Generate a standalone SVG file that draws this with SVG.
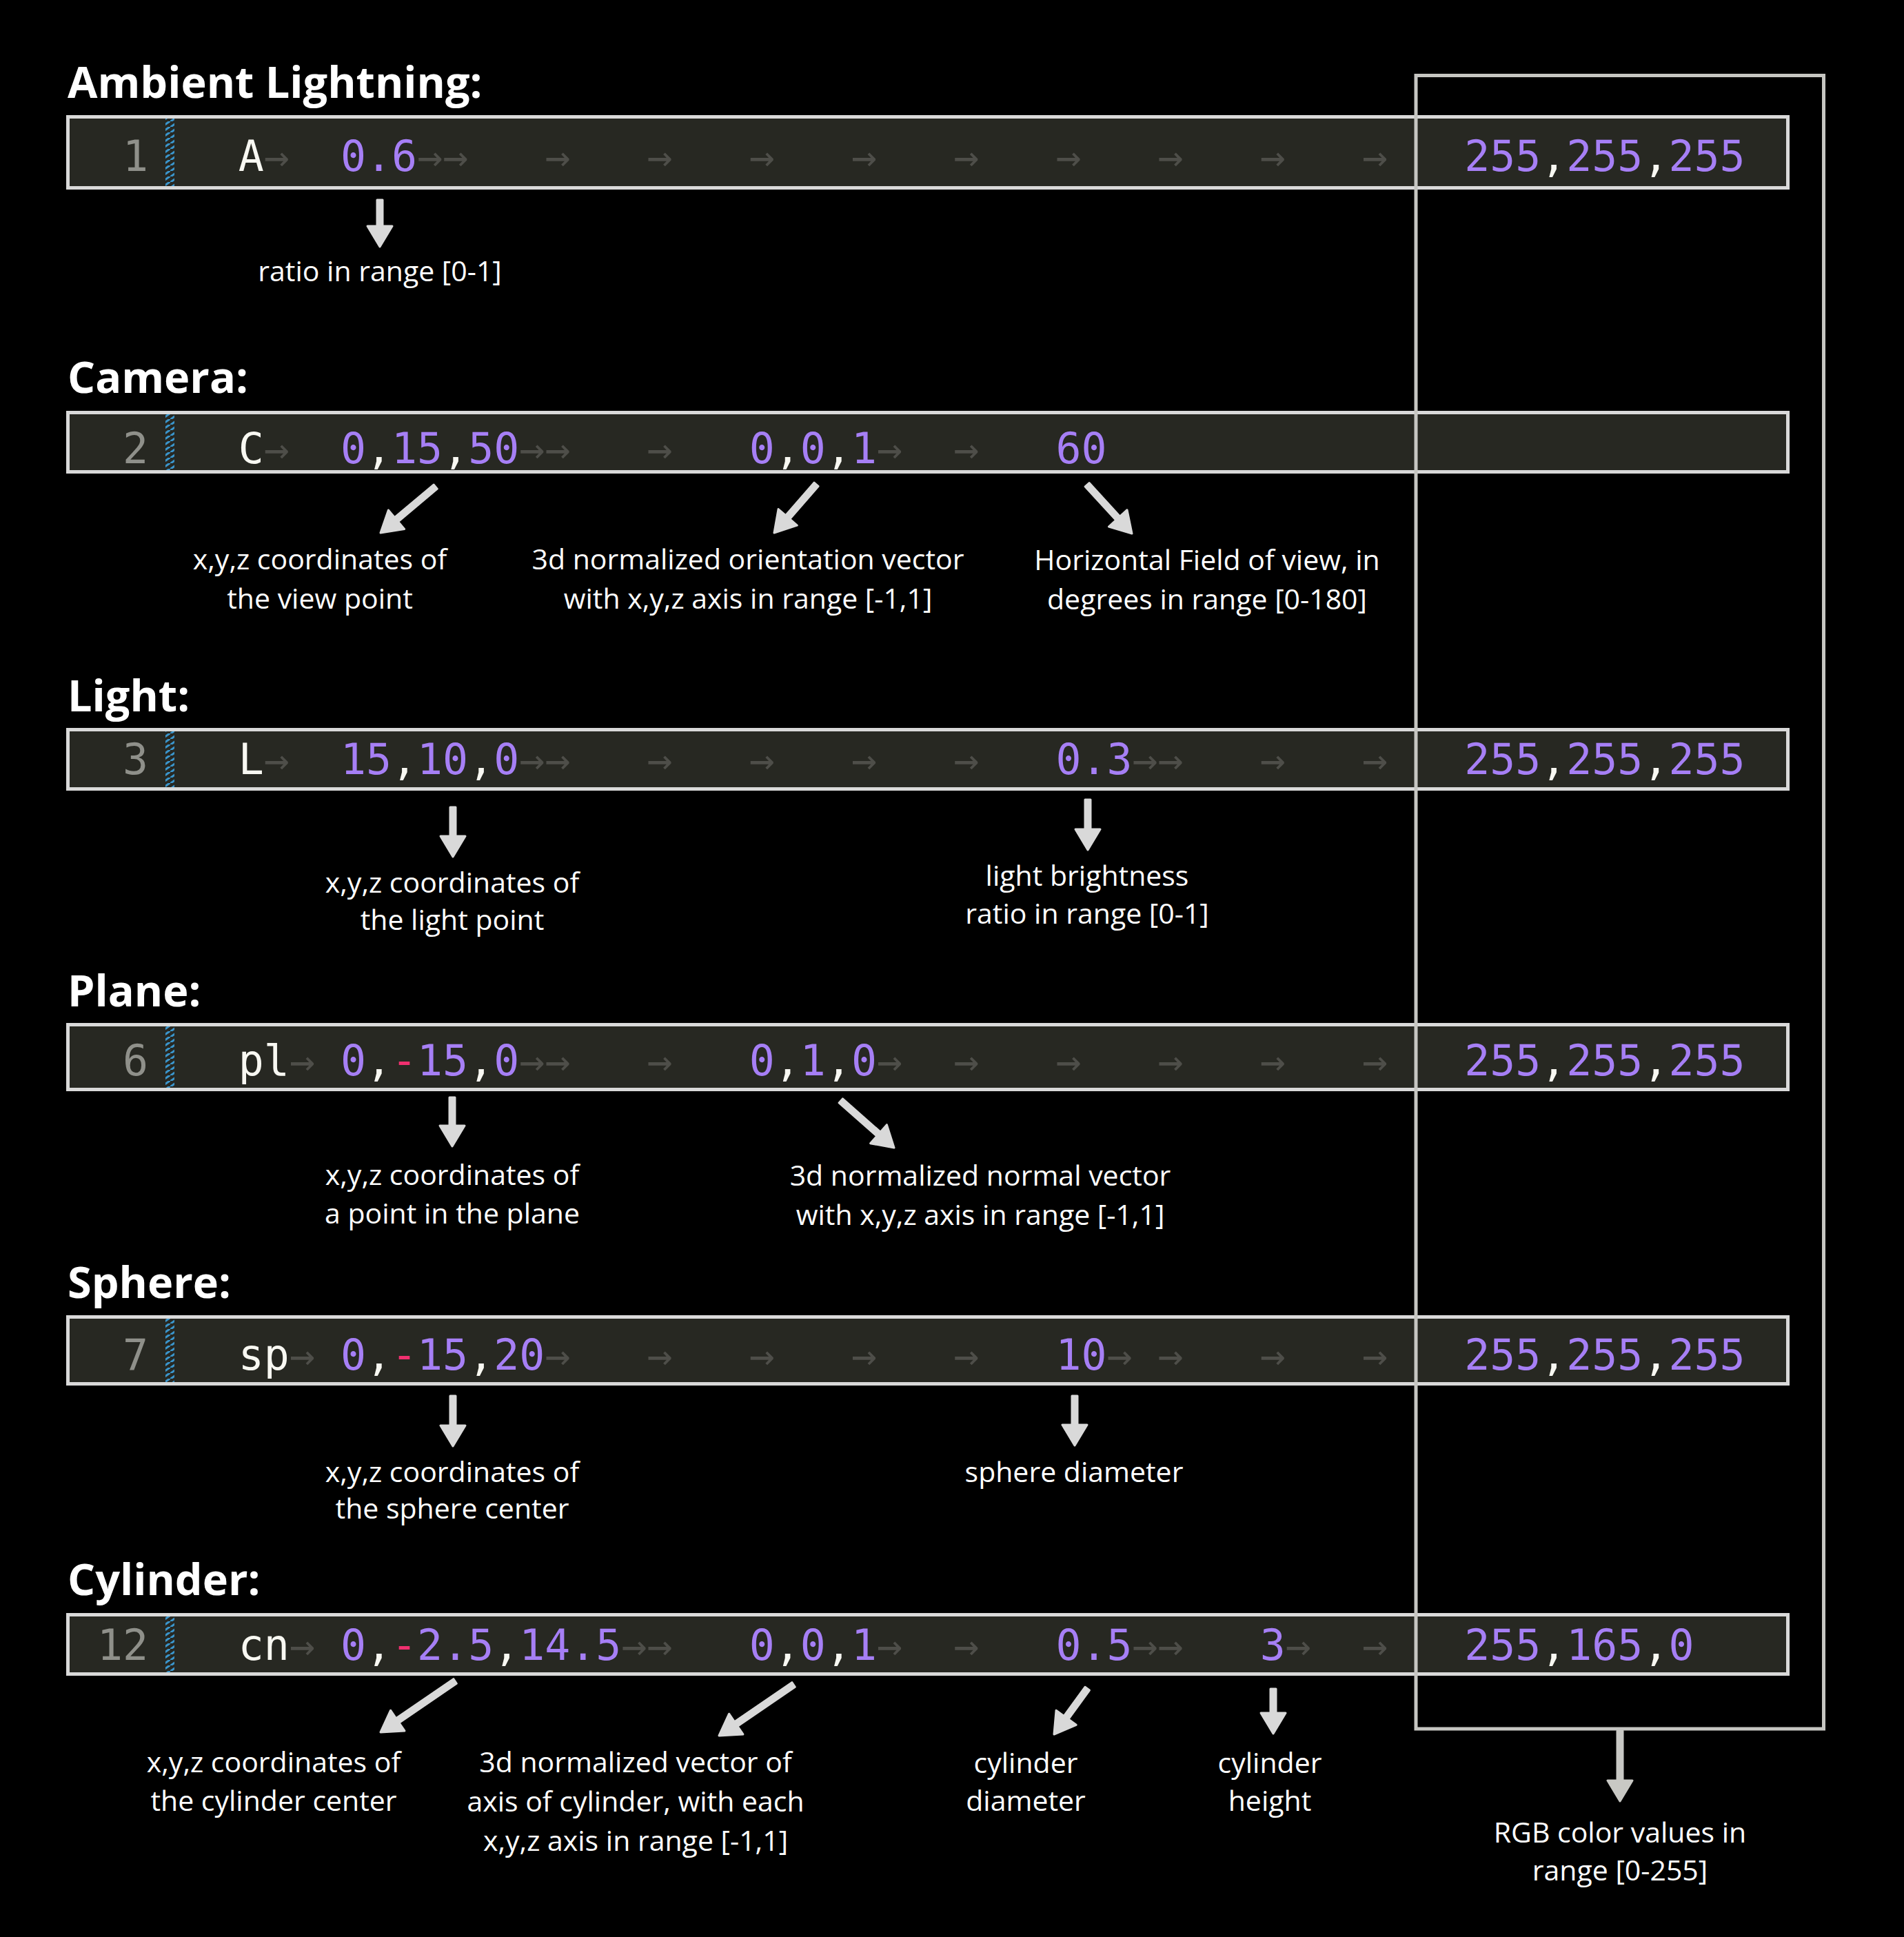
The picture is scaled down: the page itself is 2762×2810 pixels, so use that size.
<svg xmlns="http://www.w3.org/2000/svg" width="2762" height="2810" viewBox="0 0 2762 2810">
<style>
.bg{fill:#000}
.row{fill:#272822;stroke:#d9d9d9;stroke-width:5}
.frame{fill:none;stroke:#c6c6c2;stroke-width:5}
.code{font-family:"DejaVu Sans Mono","Liberation Mono",monospace;font-size:61.5px}
.p{fill:#a67ff5}
.w{fill:#f8f8f2}
.r{fill:#f0306f}
.t{fill:#4e4e49}
.ln{fill:#8f908a}
.h{font-family:"Open Sans","Noto Sans","Liberation Sans",sans-serif;font-weight:700;font-size:63px;fill:#fff}
.lb{font-family:"Open Sans","Noto Sans","Liberation Sans",sans-serif;font-size:41px;fill:#fff;text-anchor:middle}
.ar{fill:#d9d9d9;stroke:#d9d9d9;stroke-width:3;stroke-linejoin:round}
.ar2{fill:#c8c8c4;stroke:#c8c8c4;stroke-width:3;stroke-linejoin:round}
</style>
<defs>
<pattern id="hatch" width="13" height="8" patternUnits="userSpaceOnUse">
<rect width="13" height="8" fill="#272822"/>
<path d="M-2,10 L15,-2" stroke="#3a95cc" stroke-width="3"/>
</pattern>
</defs>
<rect class="bg" x="0" y="0" width="2762" height="2810"/>

<g id="ambient">
<text class="h" x="98" y="142">Ambient Lightning:</text>
<rect class="row" x="98.5" y="169.5" width="2495" height="103"/>
<rect x="240" y="172" width="13" height="98" fill="url(#hatch)"/>
<text class="code ln" x="215" y="248" text-anchor="end">1</text>
<text class="code" y="248"><tspan x="345.8" class="w">A</tspan><tspan x="382.85" class="t">→</tspan><tspan x="494" class="p">0.6</tspan><tspan x="605.15" class="t">→</tspan><tspan x="642.2" class="t">→</tspan><tspan x="790.4" class="t">→</tspan><tspan x="938.6" class="t">→</tspan><tspan x="1086.8" class="t">→</tspan><tspan x="1235" class="t">→</tspan><tspan x="1383.2" class="t">→</tspan><tspan x="1531.4" class="t">→</tspan><tspan x="1679.6" class="t">→</tspan><tspan x="1827.8" class="t">→</tspan><tspan x="1976" class="t">→</tspan><tspan x="2124.2" class="p">255<tspan class="w">,</tspan>255<tspan class="w">,</tspan>255</tspan></text>
<text class="lb" x="551" y="408">ratio in range [0-1]</text>
</g>

<g id="camera">
<text class="h" x="98" y="570">Camera:</text>
<rect class="row" x="98.5" y="598.5" width="2495" height="86"/>
<rect x="240" y="601" width="13" height="81" fill="url(#hatch)"/>
<text class="code ln" x="215" y="672" text-anchor="end">2</text>
<text class="code" y="672"><tspan x="345.8" class="w">C</tspan><tspan x="382.85" class="t">→</tspan><tspan x="494" class="p">0<tspan class="w">,</tspan>15<tspan class="w">,</tspan>50</tspan><tspan x="753.35" class="t">→</tspan><tspan x="790.4" class="t">→</tspan><tspan x="938.6" class="t">→</tspan><tspan x="1086.8" class="p">0<tspan class="w">,</tspan>0<tspan class="w">,</tspan>1</tspan><tspan x="1272.05" class="t">→</tspan><tspan x="1383.2" class="t">→</tspan><tspan x="1531.4" class="p">60</tspan></text>
<text class="lb" x="464" y="826">x,y,z coordinates of</text>
<text class="lb" x="464" y="883">the view point</text>
<text class="lb" x="1085" y="826">3d normalized orientation vector</text>
<text class="lb" x="1085" y="883">with x,y,z axis in range [-1,1]</text>
<text class="lb" x="1751" y="827">Horizontal Field of view, in</text>
<text class="lb" x="1751" y="884">degrees in range [0-180]</text>
</g>

<g id="light">
<text class="h" x="98" y="1032">Light:</text>
<rect class="row" x="98.5" y="1058.5" width="2495" height="86"/>
<rect x="240" y="1061" width="13" height="81" fill="url(#hatch)"/>
<text class="code ln" x="215" y="1123" text-anchor="end">3</text>
<text class="code" y="1123"><tspan x="345.8" class="w">L</tspan><tspan x="382.85" class="t">→</tspan><tspan x="494" class="p">15<tspan class="w">,</tspan>10<tspan class="w">,</tspan>0</tspan><tspan x="753.35" class="t">→</tspan><tspan x="790.4" class="t">→</tspan><tspan x="938.6" class="t">→</tspan><tspan x="1086.8" class="t">→</tspan><tspan x="1235" class="t">→</tspan><tspan x="1383.2" class="t">→</tspan><tspan x="1531.4" class="p">0.3</tspan><tspan x="1642.55" class="t">→</tspan><tspan x="1679.6" class="t">→</tspan><tspan x="1827.8" class="t">→</tspan><tspan x="1976" class="t">→</tspan><tspan x="2124.2" class="p">255<tspan class="w">,</tspan>255<tspan class="w">,</tspan>255</tspan></text>
<text class="lb" x="656" y="1295">x,y,z coordinates of</text>
<text class="lb" x="656" y="1349">the light point</text>
<text class="lb" x="1577" y="1285">light brightness</text>
<text class="lb" x="1577" y="1340">ratio in range [0-1]</text>
</g>

<g id="plane">
<text class="h" x="98" y="1460">Plane:</text>
<rect class="row" x="98.5" y="1486.5" width="2495" height="94"/>
<rect x="240" y="1489" width="13" height="89" fill="url(#hatch)"/>
<text class="code ln" x="215" y="1560" text-anchor="end">6</text>
<text class="code" y="1560"><tspan x="345.8" class="w">pl</tspan><tspan x="419.9" class="t">→</tspan><tspan x="494" class="p">0<tspan class="w">,</tspan><tspan class="r">-</tspan>15<tspan class="w">,</tspan>0</tspan><tspan x="753.35" class="t">→</tspan><tspan x="790.4" class="t">→</tspan><tspan x="938.6" class="t">→</tspan><tspan x="1086.8" class="p">0<tspan class="w">,</tspan>1<tspan class="w">,</tspan>0</tspan><tspan x="1272.05" class="t">→</tspan><tspan x="1383.2" class="t">→</tspan><tspan x="1531.4" class="t">→</tspan><tspan x="1679.6" class="t">→</tspan><tspan x="1827.8" class="t">→</tspan><tspan x="1976" class="t">→</tspan><tspan x="2124.2" class="p">255<tspan class="w">,</tspan>255<tspan class="w">,</tspan>255</tspan></text>
<text class="lb" x="656" y="1719">x,y,z coordinates of</text>
<text class="lb" x="656" y="1775">a point in the plane</text>
<text class="lb" x="1422" y="1720">3d normalized normal vector</text>
<text class="lb" x="1422" y="1777">with x,y,z axis in range [-1,1]</text>
</g>

<g id="sphere">
<text class="h" x="98" y="1883">Sphere:</text>
<rect class="row" x="98.5" y="1910.5" width="2495" height="97"/>
<rect x="240" y="1913" width="13" height="92" fill="url(#hatch)"/>
<text class="code ln" x="215" y="1987" text-anchor="end">7</text>
<text class="code" y="1987"><tspan x="345.8" class="w">sp</tspan><tspan x="419.9" class="t">→</tspan><tspan x="494" class="p">0<tspan class="w">,</tspan><tspan class="r">-</tspan>15<tspan class="w">,</tspan>20</tspan><tspan x="790.4" class="t">→</tspan><tspan x="938.6" class="t">→</tspan><tspan x="1086.8" class="t">→</tspan><tspan x="1235" class="t">→</tspan><tspan x="1383.2" class="t">→</tspan><tspan x="1531.4" class="p">10</tspan><tspan x="1605.5" class="t">→</tspan><tspan x="1679.6" class="t">→</tspan><tspan x="1827.8" class="t">→</tspan><tspan x="1976" class="t">→</tspan><tspan x="2124.2" class="p">255<tspan class="w">,</tspan>255<tspan class="w">,</tspan>255</tspan></text>
<text class="lb" x="656" y="2150">x,y,z coordinates of</text>
<text class="lb" x="656" y="2203">the sphere center</text>
<text class="lb" x="1558" y="2150">sphere diameter</text>
</g>

<g id="cylinder">
<text class="h" x="98" y="2314">Cylinder:</text>
<rect class="row" x="98.5" y="2342.5" width="2495" height="86"/>
<rect x="240" y="2345" width="13" height="81" fill="url(#hatch)"/>
<text class="code ln" x="215" y="2408" text-anchor="end">12</text>
<text class="code" y="2408"><tspan x="345.8" class="w">cn</tspan><tspan x="419.9" class="t">→</tspan><tspan x="494" class="p">0<tspan class="w">,</tspan><tspan class="r">-</tspan>2.5<tspan class="w">,</tspan>14.5</tspan><tspan x="901.55" class="t">→</tspan><tspan x="938.6" class="t">→</tspan><tspan x="1086.8" class="p">0<tspan class="w">,</tspan>0<tspan class="w">,</tspan>1</tspan><tspan x="1272.05" class="t">→</tspan><tspan x="1383.2" class="t">→</tspan><tspan x="1531.4" class="p">0.5</tspan><tspan x="1642.55" class="t">→</tspan><tspan x="1679.6" class="t">→</tspan><tspan x="1827.8" class="p">3</tspan><tspan x="1864.85" class="t">→</tspan><tspan x="1976" class="t">→</tspan><tspan x="2124.2" class="p">255<tspan class="w">,</tspan>165<tspan class="w">,</tspan>0</tspan></text>
<text class="lb" x="397" y="2571">x,y,z coordinates of</text>
<text class="lb" x="397" y="2627">the cylinder center</text>
<text class="lb" x="922" y="2571">3d normalized vector of</text>
<text class="lb" x="922" y="2628">axis of cylinder, with each</text>
<text class="lb" x="922" y="2685">x,y,z axis in range [-1,1]</text>
<text class="lb" x="1488" y="2572">cylinder</text>
<text class="lb" x="1488" y="2627">diameter</text>
<text class="lb" x="1842" y="2572">cylinder</text>
<text class="lb" x="1842" y="2627">height</text>
</g>

<g id="rgb-frame">
<rect class="frame" x="2054" y="109.5" width="591.5" height="2398.5"/>
<text class="lb" x="2350" y="2673">RGB color values in</text>
<text class="lb" x="2350" y="2728">range [0-255]</text>
</g>

<g id="connectors">
<path class="ar" transform="translate(551,358)" d="M-4,-68 H4 V-30 H18 L0,0 L-18,-30 H-4 Z"/>
<path class="ar" transform="translate(552,773) rotate(50)" d="M-4,-104 H4 V-30 H18 L0,0 L-18,-30 H-4 Z"/>
<path class="ar" transform="translate(1123,773) rotate(41)" d="M-4,-93 H4 V-30 H18 L0,0 L-18,-30 H-4 Z"/>
<path class="ar" transform="translate(1642,774) rotate(-42.5)" d="M-4,-96 H4 V-30 H18 L0,0 L-18,-30 H-4 Z"/>
<path class="ar" transform="translate(657,1243)" d="M-4,-72 H4 V-30 H18 L0,0 L-18,-30 H-4 Z"/>
<path class="ar" transform="translate(1578,1233)" d="M-4,-73 H4 V-30 H18 L0,0 L-18,-30 H-4 Z"/>
<path class="ar" transform="translate(656,1663)" d="M-4,-71 H4 V-30 H18 L0,0 L-18,-30 H-4 Z"/>
<path class="ar" transform="translate(1297,1665) rotate(-48.6)" d="M-4,-103 H4 V-30 H18 L0,0 L-18,-30 H-4 Z"/>
<path class="ar" transform="translate(657,2098)" d="M-4,-73 H4 V-30 H18 L0,0 L-18,-30 H-4 Z"/>
<path class="ar" transform="translate(1559,2097)" d="M-4,-72 H4 V-30 H18 L0,0 L-18,-30 H-4 Z"/>
<path class="ar" transform="translate(552,2513) rotate(55.6)" d="M-4,-131 H4 V-30 H18 L0,0 L-18,-30 H-4 Z"/>
<path class="ar" transform="translate(1043,2518) rotate(55.6)" d="M-4,-131 H4 V-30 H18 L0,0 L-18,-30 H-4 Z"/>
<path class="ar" transform="translate(1529,2516) rotate(36)" d="M-4,-82 H4 V-30 H18 L0,0 L-18,-30 H-4 Z"/>
<path class="ar" transform="translate(1847,2515)" d="M-4,-65 H4 V-30 H18 L0,0 L-18,-30 H-4 Z"/>
<path class="ar2" transform="translate(2350,2613)" d="M-4,-102 H4 V-30 H18 L0,0 L-18,-30 H-4 Z"/>
</g>
</svg>
